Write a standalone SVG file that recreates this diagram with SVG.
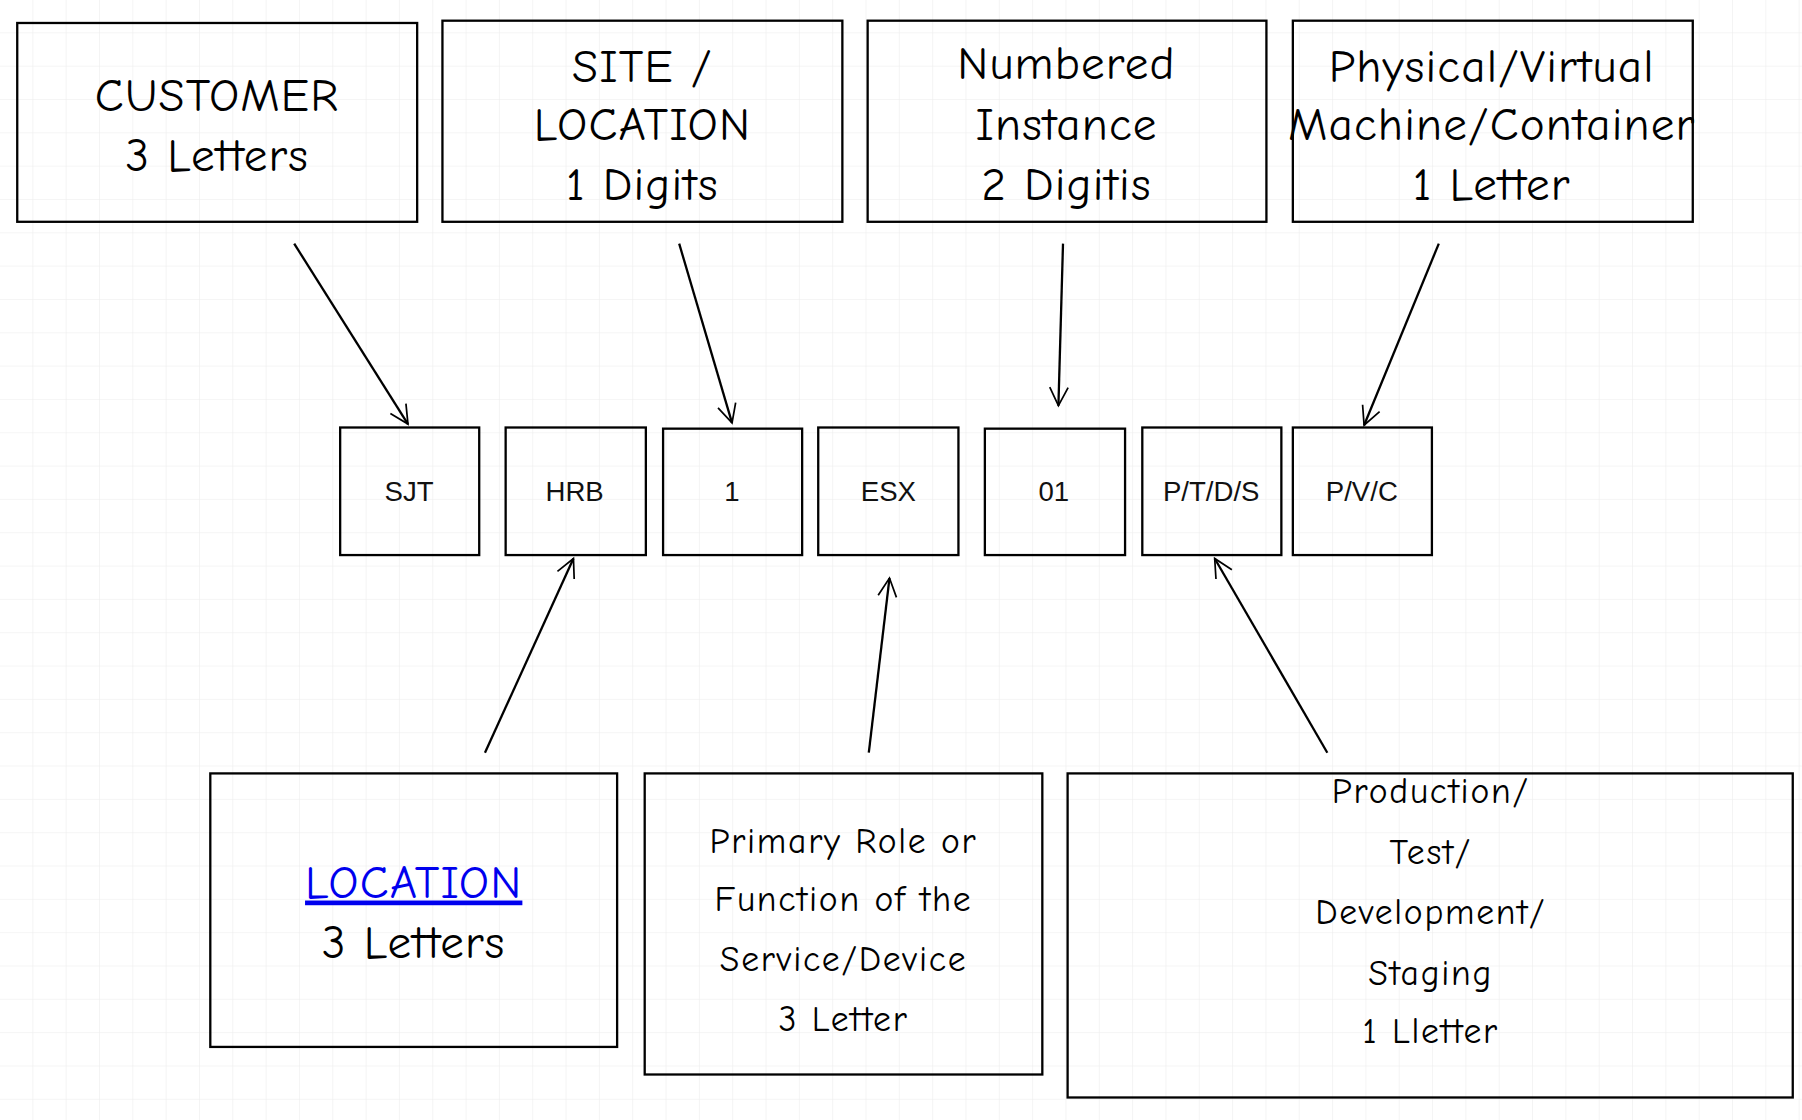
<svg xmlns="http://www.w3.org/2000/svg" width="1802" height="1120" viewBox="0 0 1802 1120">
<defs>
<pattern id="grid" width="29" height="29" patternUnits="userSpaceOnUse"><path d="M29 0V29H0" fill="none" stroke="#ececec" stroke-width="1"/></pattern>
<marker id="ah" viewBox="0 0 20 20" refX="18" refY="10" markerWidth="20" markerHeight="20" markerUnits="userSpaceOnUse" orient="auto"><path d="M2 2L18 10L2 18" fill="none" stroke="#000" stroke-width="1.5"/></marker>
<style>
.b{fill:none;stroke:#000;stroke-width:2}
.h{font-family:"Comic Neue","Lato","Liberation Sans",sans-serif;text-anchor:middle;fill:#000}
.t{font-size:41px;letter-spacing:1px}.s{font-size:31px;letter-spacing:1.5px}
.m{font-family:"Liberation Sans",Arial,sans-serif;font-size:24px;text-anchor:middle;fill:#111}
.c{fill:none;stroke:#000;stroke-width:2}
</style>
</defs>
<rect width="1802" height="1120" fill="#fff"/>
<g transform="scale(1.1492)">
<rect width="1568" height="975" fill="url(#grid)"/>
<g id="customer"><rect class="b" x="15" y="20" width="348" height="173"/><text class="h t" x="189" y="97">CUSTOMER</text><text class="h t" x="189" y="149">3 Letters</text></g>
<g id="site"><rect class="b" x="385" y="18" width="348" height="175"/><text class="h t" x="559" y="71">SITE /</text><text class="h t" x="559" y="122">LOCATION</text><text class="h t" x="559" y="174">1 Digits</text></g>
<g id="numbered"><rect class="b" x="755" y="18" width="347" height="175"/><text class="h t" x="928" y="69">Numbered</text><text class="h t" x="928" y="122">Instance</text><text class="h t" x="928" y="174">2 Digitis</text></g>
<g id="physical"><rect class="b" x="1125" y="18" width="348" height="175"/><text class="h t" x="1298" y="71">Physical/Virtual</text><text class="h t" x="1298" y="122">Machine/Container</text><text class="h t" x="1298" y="174">1 Letter</text></g>
<g id="sjt"><rect class="b" x="296" y="372" width="121" height="111"/><text class="m" x="356" y="436">SJT</text></g>
<g id="hrb"><rect class="b" x="440" y="372" width="122" height="111"/><text class="m" x="500" y="436">HRB</text></g>
<g id="one"><rect class="b" x="577" y="373" width="121" height="110"/><text class="m" x="637" y="436">1</text></g>
<g id="esx"><rect class="b" x="712" y="372" width="122" height="111"/><text class="m" x="773" y="436">ESX</text></g>
<g id="zero1"><rect class="b" x="857" y="373" width="122" height="110"/><text class="m" x="917" y="436">01</text></g>
<g id="ptds"><rect class="b" x="994" y="372" width="121" height="111"/><text class="m" x="1054" y="436">P/T/D/S</text></g>
<g id="pvc"><rect class="b" x="1125" y="372" width="121" height="111"/><text class="m" x="1185" y="436">P/V/C</text></g>
<g id="location"><rect class="b" x="183" y="673" width="354" height="238"/><text class="h t" x="360" y="781" style="fill:#0000ee;text-decoration:underline">LOCATION</text><text class="h t" x="360" y="834">3 Letters</text></g>
<g id="primary"><rect class="b" x="561" y="673" width="346" height="262"/><text class="h s" x="734" y="742">Primary Role or</text><text class="h s" x="734" y="793">Function of the</text><text class="h s" x="734" y="845">Service/Device</text><text class="h s" x="734" y="897">3 Letter</text></g>
<g id="production"><rect class="b" x="929" y="673" width="631" height="282"/><text class="h s" x="1245" y="699">Production/</text><text class="h s" x="1245" y="752">Test/</text><text class="h s" x="1245" y="804">Development/</text><text class="h s" x="1245" y="857">Staging</text><text class="h s" x="1245" y="908">1 Lletter</text></g>
<g id="connectors">
<line class="c" x1="256" y1="212" x2="355" y2="369" marker-end="url(#ah)"/>
<line class="c" x1="591" y1="212" x2="637" y2="368" marker-end="url(#ah)"/>
<line class="c" x1="925" y1="212" x2="921" y2="353" marker-end="url(#ah)"/>
<line class="c" x1="1252" y1="212" x2="1187" y2="370" marker-end="url(#ah)"/>
<line class="c" x1="422" y1="655" x2="499" y2="486" marker-end="url(#ah)"/>
<line class="c" x1="756" y1="655" x2="774" y2="503" marker-end="url(#ah)"/>
<line class="c" x1="1155" y1="655" x2="1057" y2="486" marker-end="url(#ah)"/>
</g>
</g>
</svg>
